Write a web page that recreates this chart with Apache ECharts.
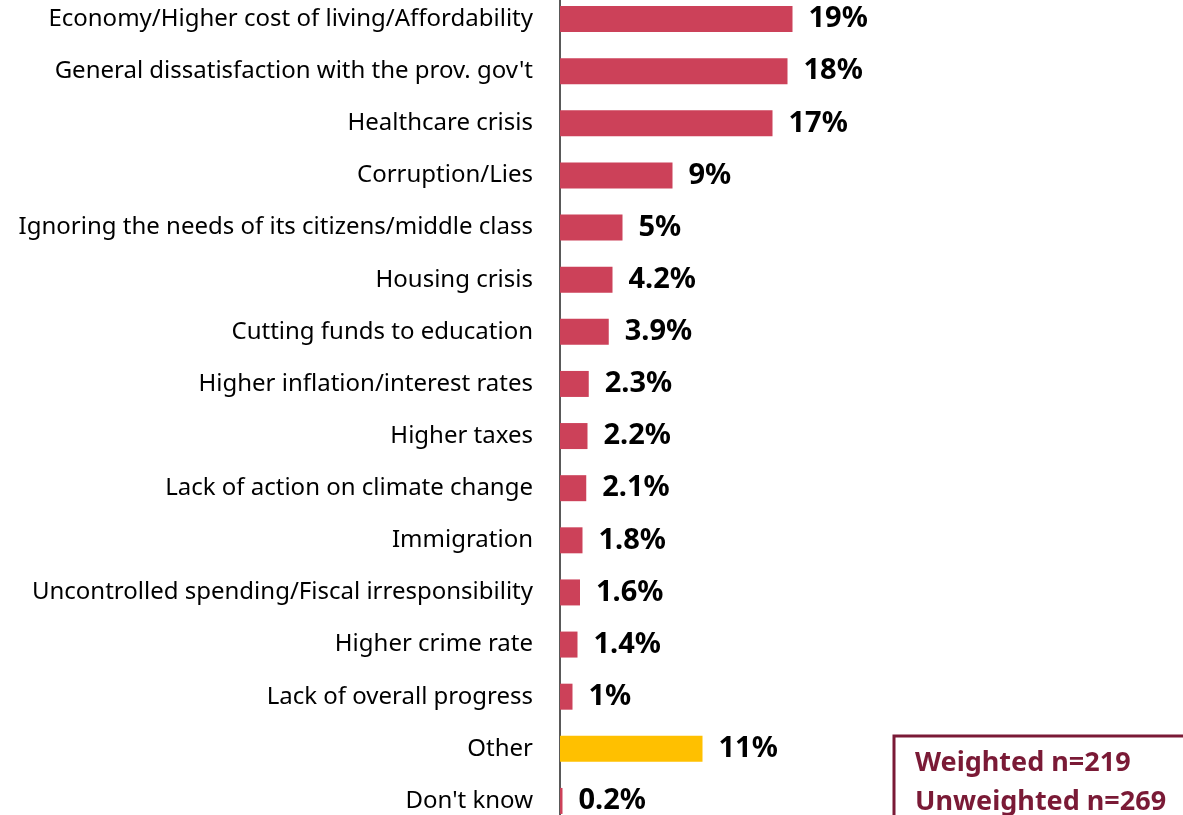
<!DOCTYPE html>
<html>
<head>
<meta charset="utf-8">
<script src="https://cdn.jsdelivr.net/npm/echarts@6/dist/echarts.min.js"></script>
<style>
  html, body { margin: 0; padding: 0; background: #fff; }
  #main { width: 1183px; height: 815px; }
</style>
</head>
<body>
<div id="main"></div>
<script>
var categories = [
    'Economy/Higher cost of living/Affordability',
    "General dissatisfaction with the prov. gov't",
    'Healthcare crisis',
    'Corruption/Lies',
    'Ignoring the needs of its citizens/middle class',
    'Housing crisis',
    'Cutting funds to education',
    'Higher inflation/interest rates',
    'Higher taxes',
    'Lack of action on climate change',
    'Immigration',
    'Uncontrolled spending/Fiscal irresponsibility',
    'Higher crime rate',
    'Lack of overall progress',
    'Other',
    "Don't know"
];
var values = [18.6, 18.2, 17.0, 9.0, 5.0, 4.2, 3.9, 2.3, 2.2, 2.1, 1.8, 1.6, 1.4, 1.0, 11.4, 0.2];
var valueLabels = ['19%', '18%', '17%', '9%', '5%', '4.2%', '3.9%', '2.3%', '2.2%', '2.1%',
                   '1.8%', '1.6%', '1.4%', '1%', '11%', '0.2%'];
var sampleText = ['Weighted n=219', 'Unweighted n=269'];

var red = '#CC4159';
var yellow = '#FFC000';
var maroon = '#7A1A36';

var myChart = echarts.init(document.getElementById('main'));

var option = {
    animation: false,
    grid: {
        left: 560,
        right: 373,
        top: -7,
        bottom: -12,
        outerBoundsMode: 'none',
        containLabel: false
    },
    xAxis: {
        type: 'value',
        min: 0,
        max: 20,
        show: false
    },
    yAxis: {
        type: 'category',
        inverse: true,
        data: categories,
        axisLine: { show: true, lineStyle: { color: '#595959', width: 2 } },
        axisTick: { show: false },
        axisLabel: {
            margin: 27,
            fontFamily: 'Noto Sans',
            fontSize: 24,
            color: '#000'
        }
    },
    series: [
        {
            type: 'bar',
            barWidth: 26,
            data: values.map(function (v, i) {
                return {
                    value: v,
                    itemStyle: { color: categories[i] === 'Other' ? yellow : red }
                };
            }),
            label: {
                show: true,
                position: 'right',
                distance: 16,
                fontFamily: 'Noto Sans',
                fontWeight: 'bold',
                fontSize: 29,
                color: '#000',
                formatter: function (p) { return valueLabels[p.dataIndex]; }
            }
        }
    ],
    graphic: [
        {
            type: 'rect',
            shape: { x: 894, y: 736, width: 320, height: 120 },
            style: { fill: '#fff', stroke: maroon, lineWidth: 3 }
        },
        {
            type: 'text',
            left: 915,
            top: 744,
            style: {
                text: sampleText.join('\n'),
                fontFamily: 'Noto Sans',
                fontWeight: 'bold',
                fontSize: 27,
                lineHeight: 39,
                fill: maroon
            }
        }
    ]
};

myChart.setOption(option);
</script>
</body>
</html>
